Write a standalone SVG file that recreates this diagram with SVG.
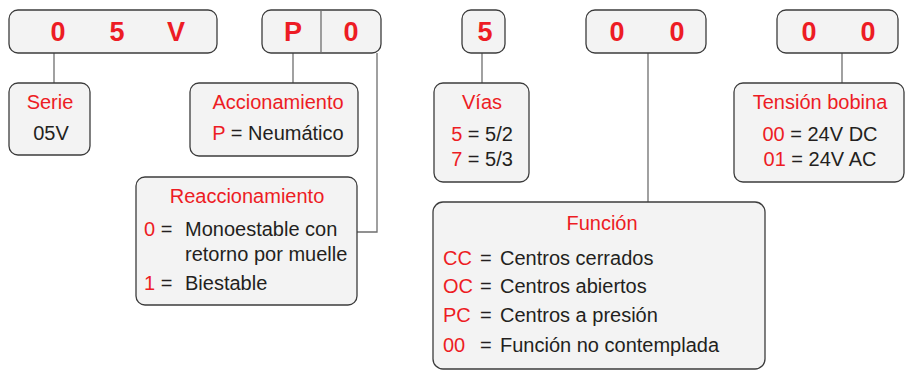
<svg xmlns="http://www.w3.org/2000/svg" width="910" height="370" viewBox="0 0 910 370">
<style>
.box{fill:#f3f3f3;stroke:#3c3c3c;stroke-width:1.3}
.ln{fill:none;stroke:#6e6e6e;stroke-width:1.3}
.big{font-family:"Liberation Sans",Arial,sans-serif;font-weight:bold;font-size:27px;fill:#ed1c24;text-anchor:middle}
.t{font-family:"Liberation Sans",Arial,sans-serif;font-size:20px;fill:#231f20}
.r{fill:#ed1c24}
.c{text-anchor:middle}
</style>
<rect width="910" height="370" fill="#ffffff"/>
<g id="connectors">
<line class="ln" x1="54" y1="53" x2="54" y2="83"/>
<line class="ln" x1="293" y1="53" x2="293" y2="83"/>
<polyline class="ln" points="377,53 377,232 357,232"/>
<line class="ln" x1="482" y1="53" x2="482" y2="83"/>
<line class="ln" x1="648" y1="53" x2="648" y2="202"/>
<line class="ln" x1="842" y1="53" x2="842" y2="83"/>
</g>
<g id="code-05V">
<rect class="box" x="9" y="10" width="208" height="43" rx="9"/>
<text class="big" x="58" y="41">0</text>
<text class="big" x="117" y="41">5</text>
<text class="big" x="176" y="41">V</text>
</g>
<g id="code-P0">
<rect class="box" x="262" y="10" width="119" height="43" rx="9"/>
<line class="ln" x1="321" y1="10" x2="321" y2="53"/>
<text class="big" x="293" y="41">P</text>
<text class="big" x="351" y="41">0</text>
</g>
<g id="code-5">
<rect class="box" x="462" y="10" width="43" height="43" rx="9"/>
<text class="big" x="485" y="41">5</text>
</g>
<g id="code-00a">
<rect class="box" x="586" y="10" width="120" height="43" rx="9"/>
<text class="big" x="617" y="41">0</text>
<text class="big" x="677" y="41">0</text>
</g>
<g id="code-00b">
<rect class="box" x="777" y="10" width="121" height="43" rx="9"/>
<text class="big" x="809" y="41">0</text>
<text class="big" x="868" y="41">0</text>
</g>
<g id="serie">
<rect class="box" x="9" y="83" width="81" height="72" rx="9"/>
<text class="t r c" x="50" y="109">Serie</text>
<text class="t c" x="51" y="140">05V</text>
</g>
<g id="accionamiento">
<rect class="box" x="190" y="83" width="168" height="73" rx="9"/>
<text class="t r c" x="278" y="109">Accionamiento</text>
<text class="t c" x="278" y="140"><tspan class="r">P</tspan> = Neumático</text>
</g>
<g id="reaccionamiento">
<rect class="box" x="136" y="177" width="221" height="128" rx="9"/>
<text class="t r c" x="247" y="203">Reaccionamiento</text>
<text class="t" x="144" y="236"><tspan class="r">0</tspan> =</text>
<text class="t" x="185" y="236">Monoestable con</text>
<text class="t" x="185" y="261">retorno por muelle</text>
<text class="t" x="144" y="290"><tspan class="r">1</tspan> =</text>
<text class="t" x="185" y="290">Biestable</text>
</g>
<g id="vias">
<rect class="box" x="434" y="83" width="95" height="99" rx="9"/>
<text class="t r c" x="482" y="109">Vías</text>
<text class="t c" x="482" y="141"><tspan class="r">5</tspan> = 5/2</text>
<text class="t c" x="482" y="166"><tspan class="r">7</tspan> = 5/3</text>
</g>
<g id="funcion">
<rect class="box" x="433" y="202" width="332" height="167" rx="10"/>
<text class="t r c" x="602" y="230">Función</text>
<text class="t r" x="443" y="265">CC</text>
<text class="t" x="480" y="265">=</text>
<text class="t" x="500" y="265">Centros cerrados</text>
<text class="t r" x="443" y="293">OC</text>
<text class="t" x="480" y="293">=</text>
<text class="t" x="500" y="293">Centros abiertos</text>
<text class="t r" x="443" y="322">PC</text>
<text class="t" x="480" y="322">=</text>
<text class="t" x="500" y="322">Centros a presión</text>
<text class="t r" x="443" y="352">00</text>
<text class="t" x="480" y="352">=</text>
<text class="t" x="500" y="352">Función no contemplada</text>
</g>
<g id="tension">
<rect class="box" x="734" y="83" width="170" height="99" rx="9"/>
<text class="t r c" x="820" y="109">Tensión bobina</text>
<text class="t c" x="820" y="141"><tspan class="r">00</tspan> = 24V DC</text>
<text class="t c" x="820" y="166"><tspan class="r">01</tspan> = 24V AC</text>
</g>
</svg>
